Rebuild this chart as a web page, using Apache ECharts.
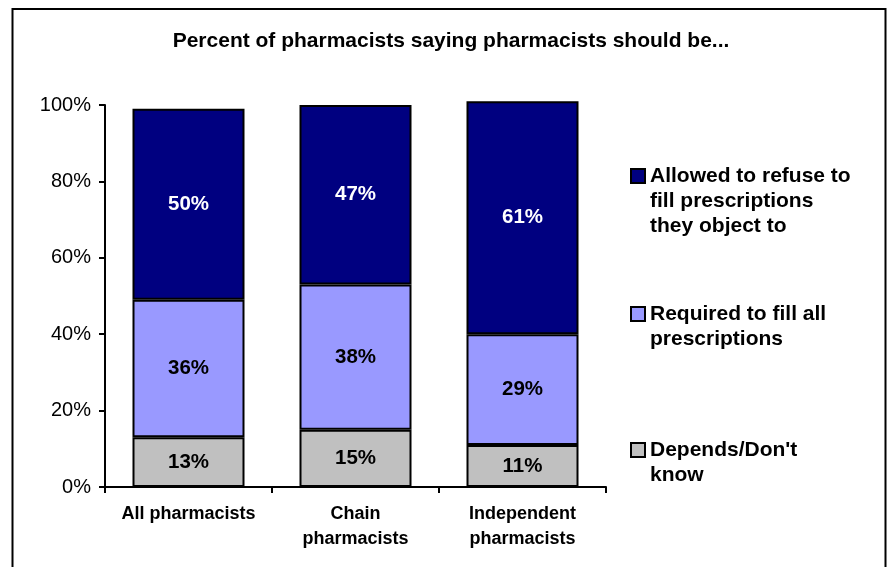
<!DOCTYPE html>
<html>
<head>
<meta charset="utf-8">
<style>
  html, body { margin: 0; padding: 0; background: #ffffff; }
  #chart { width: 887px; height: 567px; }
</style>
<script src="https://cdn.jsdelivr.net/npm/echarts@6/dist/echarts.min.js"></script>
</head>
<body>
<div id="chart"></div>
<script>
// Survey groups along the x axis
const categories = ['All pharmacists', 'Chain\npharmacists', 'Independent\npharmacists'];

// Series names (stack order bottom to top)
const seriesNames = [
  'Depends/Don\'t know',
  'Required to fill all prescriptions',
  'Allowed to refuse to fill prescriptions they object to'
];

// Percent values per group
const dependsValues  = [13, 15, 11];
const requiredValues = [36, 38, 29];
const allowedValues  = [50, 47, 61];

// Y axis ticks
const yTicks = [0, 20, 40, 60, 80, 100];

const FONT = 'Liberation Sans, Arial, sans-serif';

const chart = echarts.init(document.getElementById('chart'));

function barSeries(name, data, color, labelColor) {
  return {
    name: name,
    type: 'bar',
    stack: 'total',
    data: data,
    barWidth: 112,
    clip: false,
    itemStyle: { color: color, borderColor: '#000000', borderWidth: 2 },
    label: {
      show: true,
      position: 'inside',
      formatter: '{c}%',
      color: labelColor,
      fontFamily: FONT,
      fontWeight: 'bold',
      fontSize: 20.5
    }
  };
}

// One legend block per series; leading blank lines keep the icon
// level with the first line of the wrapped text
function legendBlock(name, lines, iconTop) {
  const lh = 25;
  const n = lines.length;
  const padded = new Array(n - 1).fill(' ').concat(lines).join('\n');
  const boxTopRel = 7 - ((2 * n - 1) * lh) / 2;
  return {
    data: [{ name: name, icon: 'rect' }],
    orient: 'vertical',
    left: 630,
    top: iconTop + boxTopRel,
    padding: 0,
    itemWidth: 14,
    itemHeight: 14,
    itemGap: 0,
    selectedMode: false,
    formatter: function () { return padded; },
    textStyle: {
      fontFamily: FONT,
      fontWeight: 'bold',
      fontSize: 21,
      color: '#000000',
      lineHeight: lh
    }
  };
}

chart.setOption({
  animation: false,
  backgroundColor: '#ffffff',
  title: {
    text: 'Percent of pharmacists saying pharmacists should be...',
    left: 446,
    textAlign: 'center',
    top: 26,
    textStyle: { fontFamily: FONT, fontWeight: 'bold', fontSize: 21, color: '#000000' }
  },
  graphic: [{
    type: 'rect',
    shape: { x: 12.5, y: 9, width: 873, height: 600 },
    style: { fill: 'none', stroke: '#000000', lineWidth: 2 },
    silent: true
  }],
  legend: [
    legendBlock(seriesNames[2], ['Allowed to refuse to', 'fill prescriptions', 'they object to'], 169),
    legendBlock(seriesNames[1], ['Required to fill all', 'prescriptions'], 307),
    legendBlock(seriesNames[0], ['Depends/Don\'t', 'know'], 443)
  ],
  grid: { left: 105, right: 281, top: 105, bottom: 80, containLabel: false },
  xAxis: {
    type: 'category',
    data: categories,
    axisLine: { lineStyle: { color: '#000000', width: 2 } },
    axisTick: { show: true, length: 6, lineStyle: { color: '#000000', width: 2 } },
    axisLabel: {
      color: '#000000',
      fontFamily: FONT,
      fontWeight: 'bold',
      fontSize: 18,
      lineHeight: 25,
      margin: 15,
      interval: 0
    }
  },
  yAxis: {
    type: 'value',
    min: yTicks[0],
    max: yTicks[yTicks.length - 1],
    interval: 20,
    splitLine: { show: false },
    axisLine: { show: true, lineStyle: { color: '#000000', width: 2 } },
    axisTick: { show: true, length: 6, lineStyle: { color: '#000000', width: 2 } },
    axisLabel: {
      color: '#000000',
      fontFamily: FONT,
      fontSize: 20,
      margin: 14,
      formatter: '{value}%'
    }
  },
  series: [
    barSeries(seriesNames[0], dependsValues, '#C0C0C0', '#000000'),
    barSeries(seriesNames[1], requiredValues, '#9999FF', '#000000'),
    barSeries(seriesNames[2], allowedValues, '#000080', '#FFFFFF')
  ]
});
</script>
</body>
</html>
